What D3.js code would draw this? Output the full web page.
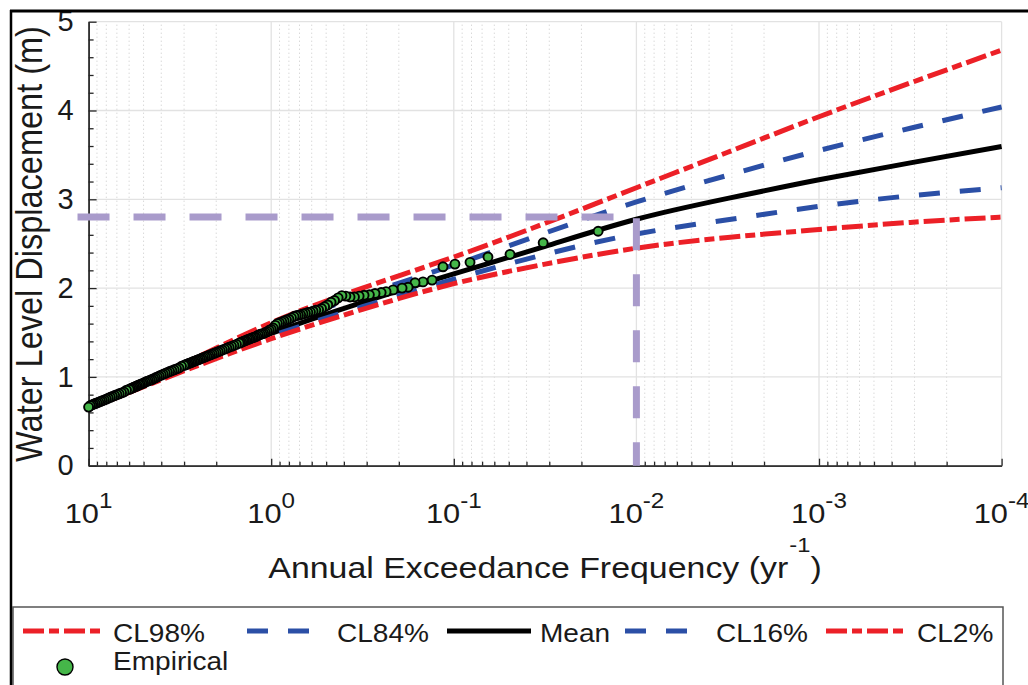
<!DOCTYPE html>
<html>
<head>
<meta charset="utf-8">
<script src="https://cdn.jsdelivr.net/npm/d3@7"></script>
<style>
  body { margin: 0; background: #fff; }
  svg { display: block; font-family: "Liberation Sans", Arial, Helvetica, sans-serif; }
</style>
</head>
<body>
<svg id="chart" width="1028" height="685"></svg>
<script>
var fitFreq = [10, 3.162, 1, 0.3162, 0.1, 0.03162, 0.01, 0.003162, 0.001, 0.0003162, 0.0001];
var cl98  = [0.67, 1.13, 1.61, 2.00, 2.35, 2.73, 3.13, 3.53, 3.93, 4.31, 4.68];
var cl84  = [0.66, 1.11, 1.55, 1.92, 2.26, 2.62, 2.97, 3.27, 3.55, 3.80, 4.04];
var meanFit = [0.66, 1.09, 1.49, 1.84, 2.16, 2.47, 2.775, 3.01, 3.22, 3.41, 3.595];
var cl16  = [0.65, 1.07, 1.46, 1.79, 2.10, 2.38, 2.61, 2.77, 2.92, 3.04, 3.13];
var cl2   = [0.64, 1.05, 1.43, 1.76, 2.05, 2.27, 2.45, 2.57, 2.66, 2.74, 2.80];

// empirical points (annual exceedance frequency, water level)
var empFreq = [
  10, 9.8, 9.6, 9.4, 9.2, 9.0, 8.8, 8.6, 8.4, 8.2, 8.0, 7.8, 7.6, 7.4, 7.2, 7.0, 6.8, 6.6, 6.4, 6.2,
  6.0, 5.9, 5.8, 5.7, 5.6, 5.5, 5.4, 5.3, 5.2, 5.1, 5.0, 4.9, 4.8, 4.7, 4.6, 4.5, 4.4, 4.3, 4.2, 4.1,
  4.0, 3.9, 3.8, 3.7, 3.6, 3.5, 3.4, 3.3, 3.2, 3.1,
  3.0, 2.95, 2.9, 2.85, 2.8, 2.75, 2.7, 2.65, 2.6, 2.55, 2.5, 2.45, 2.4, 2.35, 2.3, 2.25, 2.2, 2.15, 2.1, 2.05,
  2.0, 1.95, 1.9, 1.85, 1.8, 1.75, 1.7, 1.65, 1.6, 1.55,
  1.5, 1.475, 1.45, 1.425, 1.4, 1.375, 1.35, 1.325, 1.3, 1.275, 1.25, 1.225, 1.2, 1.175, 1.15, 1.125, 1.1, 1.075, 1.05, 1.025,
  1.0, 0.975, 0.95, 0.925, 0.9, 0.875, 0.85, 0.825, 0.8, 0.775,
  0.75, 0.73, 0.71, 0.69, 0.67, 0.65, 0.63, 0.61, 0.59, 0.57, 0.55, 0.53, 0.51, 0.49, 0.47, 0.45, 0.43, 0.41, 0.39, 0.37,
  0.35, 0.33, 0.31, 0.29, 0.27, 0.25, 0.235,
  0.215, 0.192, 0.178, 0.163, 0.1475, 0.1315, 0.1146, 0.0986, 0.0815, 0.065, 0.0492, 0.0324, 0.0162
];
var empLevel = [
  0.66, 0.677, 0.684, 0.692, 0.70, 0.708, 0.716, 0.724, 0.732, 0.741, 0.75, 0.76, 0.77, 0.78, 0.79, 0.80, 0.81, 0.82, 0.83, 0.85,
  0.86, 0.866, 0.873, 0.88, 0.887, 0.894, 0.90, 0.91, 0.916, 0.924, 0.93, 0.94, 0.95, 0.955, 0.963, 0.97, 0.98, 0.99, 1.00, 1.01,
  1.02, 1.03, 1.04, 1.05, 1.06, 1.07, 1.08, 1.09, 1.10, 1.12,
  1.13, 1.136, 1.142, 1.148, 1.155, 1.161, 1.168, 1.174, 1.181, 1.188, 1.195, 1.202, 1.21, 1.217, 1.225, 1.233, 1.241, 1.249, 1.258, 1.266,
  1.275, 1.284, 1.294, 1.303, 1.313, 1.323, 1.334, 1.344, 1.355, 1.366,
  1.38, 1.385, 1.39, 1.40, 1.405, 1.41, 1.42, 1.425, 1.43, 1.44, 1.445, 1.45, 1.46, 1.47, 1.48, 1.485, 1.49, 1.50, 1.51, 1.525,
  1.535, 1.55, 1.58, 1.60, 1.61, 1.62, 1.63, 1.64, 1.65, 1.665,
  1.68, 1.69, 1.695, 1.70, 1.71, 1.715, 1.725, 1.73, 1.74, 1.75, 1.755, 1.77, 1.79, 1.81, 1.84, 1.86, 1.89, 1.915, 1.91, 1.90,
  1.90, 1.91, 1.92, 1.925, 1.94, 1.95, 1.96,
  1.98, 2.00, 2.01, 2.06, 2.07, 2.09, 2.24, 2.27, 2.29, 2.35, 2.38, 2.51, 2.64
];

// 100-yr design level guide
var guideFreq = [11.5, 0.01, 0.01];
var guideLevel = [2.8, 2.8, 0];

var xDecades = [10, 1, 0.1, 0.01, 0.001, 0.0001];
var xExponents = ["1", "0", "-1", "-2", "-3", "-4"];
var yTicks = [0, 1, 2, 3, 4, 5];

var legendItems = [
  { name: "CL98%", color: "#ec2027", dash: "21,5,10,5", x1: 23, x2: 103, tx: 113 },
  { name: "CL84%", color: "#2b4fa6", dash: "21,20", x1: 247, x2: 313, tx: 337 },
  { name: "Mean", color: "#000", dash: null, x1: 447, x2: 531, tx: 540 },
  { name: "CL16%", color: "#2b4fa6", dash: "21,20", x1: 625, x2: 691, tx: 716 },
  { name: "CL2%", color: "#ec2027", dash: "21,5,10,5", x1: 826, x2: 908, tx: 917 }
];

var svg = d3.select('#chart');
var x = d3.scaleLog().domain([10, 0.0001]).range([88.6, 1001.6]);
var y = d3.scaleLinear().domain([0, 5]).range([465.7, 21.7]);
var sx = 1.1; // text in the reference is a little stretched sideways

/* GRID */
var minorX = x.ticks().filter(d => xDecades.indexOf(d) < 0);

svg.append('g').selectAll('line')
  .data(minorX)
  .enter().append('line')
  .attr('x1', d => x(d)).attr('x2', d => x(d))
  .attr('y1', y(0)).attr('y2', y(5))
  .style('stroke', '#c8c8c8')
  .style('stroke-dasharray', '1,3');

svg.append('g').selectAll('line')
  .data(xDecades)
  .enter().append('line')
  .attr('x1', d => x(d)).attr('x2', d => x(d))
  .attr('y1', y(0)).attr('y2', y(5))
  .style('stroke', '#e2e2e2')
  .style('stroke-width', 1.3);

svg.append('g').selectAll('line')
  .data(yTicks)
  .enter().append('line')
  .attr('x1', x(10)).attr('x2', x(0.0001))
  .attr('y1', d => y(d)).attr('y2', d => y(d))
  .style('stroke', '#e2e2e2')
  .style('stroke-width', 1.3);

/* AXES */
function styleAxis(g) {
  g.selectAll('path, line').style('stroke', '#262626').style('stroke-width', 1.3);
  g.attr('font-family', null).attr('font-size', 29);
  g.selectAll('text').style('fill', '#1a1a1a');
}

svg.append('g')
  .attr('transform', 'translate(0,' + y(0) + ')')
  .call(d3.axisBottom(x).tickValues(minorX).tickSize(-4).tickSizeOuter(0).tickFormat(''))
  .call(styleAxis);

svg.append('g')
  .attr('transform', 'translate(0,' + y(0) + ')')
  .call(d3.axisBottom(x).tickValues(xDecades).tickSize(-7).tickSizeOuter(0).tickFormat(''))
  .call(styleAxis);

svg.append('g')
  .attr('transform', 'translate(' + x(10) + ',0)')
  .call(d3.axisLeft(y).tickValues(d3.range(0.2, 5, 0.2).filter(d => Math.abs(d - Math.round(d)) > 0.01))
    .tickSize(-5).tickSizeOuter(0).tickFormat(''))
  .call(styleAxis);

svg.append('g')
  .attr('transform', 'translate(' + x(10) + ',0)')
  .call(d3.axisLeft(y).tickValues(yTicks).tickSize(-8).tickPadding(15).tickSizeOuter(0).tickFormat(d3.format('d')))
  .call(styleAxis);

// x tick labels with exponents
var xLab = svg.append('g').selectAll('g')
  .data(xDecades)
  .enter().append('g')
  .attr('transform', d => 'translate(' + x(d) + ',523) scale(' + sx + ',1)');

var xt = xLab.append('text')
  .attr('text-anchor', 'middle')
  .style('fill', '#1a1a1a');
xt.append('tspan').attr('font-size', 28).text('10');
xt.append('tspan').attr('font-size', 22).attr('dy', -15).text((d, i) => xExponents[i]);

// axis titles
var xTitle = svg.append('g')
  .attr('transform', 'translate(545,578) scale(1.13,1)')
  .append('text')
  .attr('text-anchor', 'middle')
  .attr('font-size', 30)
  .style('fill', '#1a1a1a');
xTitle.append('tspan').text('Annual Exceedance Frequency (yr');
xTitle.append('tspan').attr('font-size', 21).attr('dy', -26).attr('dx', 1).text('-1');
xTitle.append('tspan').attr('dy', 26).text(')');

svg.append('g')
  .attr('transform', 'translate(42,244) scale(1.12,1) rotate(-90)')
  .append('text')
  .attr('text-anchor', 'middle')
  .attr('font-size', 32.5)
  .style('fill', '#1a1a1a')
  .text('Water Level Displacement (m)');

/* CURVES */
var line = d3.line()
  .x(d => x(d[0]))
  .y(d => y(d[1]))
  .curve(d3.curveNatural);

var curves = [
  { values: cl98, color: '#ec2027', dash: '21,5,10,5' },
  { values: cl84, color: '#2b4fa6', dash: '21,20' },
  { values: meanFit, color: '#000', dash: null },
  { values: cl16, color: '#2b4fa6', dash: '21,20' },
  { values: cl2, color: '#ec2027', dash: '21,5,10,5' }
];

svg.append('g').selectAll('path')
  .data(curves)
  .enter().append('path')
  .attr('d', c => line(fitFreq.map((f, i) => [f, c.values[i]])))
  .style('fill', 'none')
  .style('stroke', c => c.color)
  .style('stroke-width', 5)
  .style('stroke-dasharray', c => c.dash);

/* EMPIRICAL */
// drawn from rarest to most frequent so the dense run ends on top at 10/yr
var emp = empFreq.map((f, i) => [f, empLevel[i]]).reverse();

svg.append('g').selectAll('circle')
  .data(emp)
  .enter().append('circle')
  .attr('cx', d => x(d[0]))
  .attr('cy', d => y(d[1]))
  .attr('r', 4.5)
  .style('fill', '#45b649')
  .style('stroke', '#000')
  .style('stroke-width', 1.9);

/* DESIGN GUIDE */
svg.append('path')
  .attr('d', d3.line().x(d => x(d[0])).y(d => y(d[1]))(guideFreq.map((f, i) => [f, guideLevel[i]])))
  .style('fill', 'none')
  .style('stroke', '#a99bcb')
  .style('stroke-width', 7)
  .style('stroke-dasharray', '32,24');

/* LEGEND */
var legend = svg.append('g');

legend.append('rect')
  .attr('x', 13).attr('y', 607)
  .attr('width', 990).attr('height', 110)
  .style('fill', '#fff')
  .style('stroke', '#555')
  .style('stroke-width', 1.5);

var items = legend.selectAll('g.item')
  .data(legendItems)
  .enter().append('g')
  .classed('item', true);

items.append('line')
  .attr('x1', d => d.x1).attr('x2', d => d.x2)
  .attr('y1', 631).attr('y2', 631)
  .style('stroke', d => d.color)
  .style('stroke-width', 5)
  .style('stroke-dasharray', d => d.dash);

items.append('g')
  .attr('transform', d => 'translate(' + d.tx + ',641.5) scale(' + sx + ',1)')
  .append('text')
  .attr('font-size', 25.5)
  .style('fill', '#1a1a1a')
  .text(d => d.name);

legend.append('circle')
  .attr('cx', 65).attr('cy', 667)
  .attr('r', 8)
  .style('fill', '#45b649')
  .style('stroke', '#000')
  .style('stroke-width', 1.4);

legend.append('g')
  .attr('transform', 'translate(113,670) scale(' + sx + ',1)')
  .append('text')
  .attr('font-size', 25.5)
  .style('fill', '#1a1a1a')
  .text('Empirical');

/* FRAME */
svg.append('line')
  .attr('x1', 10).attr('x2', 1028).attr('y1', 11).attr('y2', 11)
  .style('stroke', '#000').style('stroke-width', 3);
svg.append('line')
  .attr('x1', 11).attr('x2', 11).attr('y1', 10).attr('y2', 685)
  .style('stroke', '#000').style('stroke-width', 2.5);
</script>
</body>
</html>
